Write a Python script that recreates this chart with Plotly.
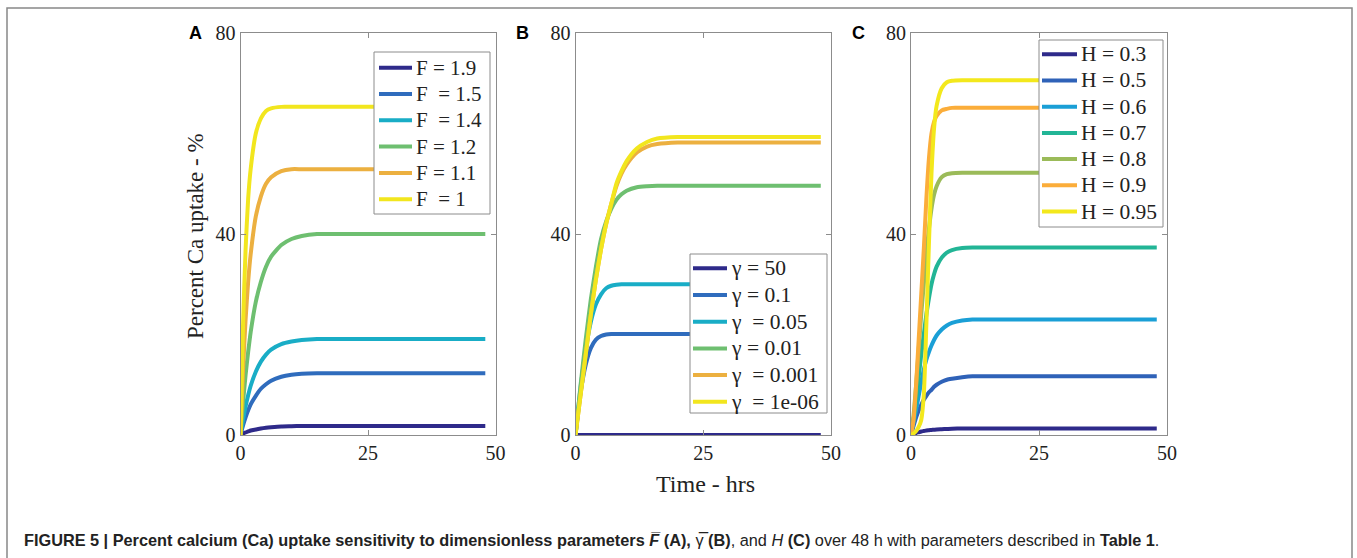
import plotly.graph_objects as go

W, H = 1357, 558

# ---------------- data ----------------
# Panel A : F-bar sensitivity
tA = [0, 0.5, 1, 1.5, 2, 3, 4, 5, 6, 8, 10, 12, 15, 20, 30, 48]
A_labels = ["F = 1.9", "F  = 1.5", "F  = 1.4", "F = 1.2", "F = 1.1", "F  = 1"]
A_F19 = [0, 0.3, 0.5, 0.7, 0.9, 1.1, 1.3, 1.45, 1.55, 1.7, 1.75, 1.8, 1.8, 1.8, 1.8, 1.8]
A_F15 = [0, 1.9, 3.5, 4.9, 6.1, 7.8, 9.2, 10.1, 10.8, 11.6, 12.0, 12.2, 12.3, 12.3, 12.3, 12.3]
A_F14 = [0, 3.1, 5.7, 7.9, 9.8, 12.6, 14.6, 16.0, 17.0, 18.1, 18.6, 18.9, 19.1, 19.1, 19.1, 19.1]
A_F12 = [0, 6.5, 12.0, 16.5, 20.5, 26.5, 30.5, 33.5, 35.5, 37.8, 39.0, 39.6, 40.0, 40.0, 40.0, 40.0]
A_F11 = [0, 13.0, 23.0, 30.5, 36.0, 43.5, 47.5, 50.0, 51.3, 52.5, 52.9, 52.9, 52.9, 52.9, 52.9, 52.9]
A_F10 = [0, 22.0, 37.0, 47.0, 53.0, 60.0, 63.0, 64.5, 65.0, 65.3, 65.3, 65.3, 65.3, 65.3, 65.3, 65.3]

# Panel B : gamma-bar sensitivity
tB = [0, 0.5, 1, 2, 3, 4, 5, 6, 7, 8, 9, 10, 12, 14, 16, 20, 30, 48]
B_labels = ["\u03b3 = 50", "\u03b3 = 0.1", "\u03b3  = 0.05", "\u03b3 = 0.01", "\u03b3  = 0.001", "\u03b3  = 1e-06"]
B_g50 = [0] * 18
B_g01 = [0, 4.5, 8.5, 14.0, 17.3, 19.0, 19.7, 20.0, 20.1, 20.1, 20.1, 20.1, 20.1, 20.1, 20.1, 20.1, 20.1, 20.1]
B_g005 = [0, 5.0, 9.5, 17.0, 22.5, 26.0, 28.0, 29.2, 29.7, 29.9, 30.0, 30.0, 30.0, 30.0, 30.0, 30.0, 30.0, 30.0]
B_g001 = [0, 5.0, 10.0, 19.0, 27.0, 33.5, 39.0, 42.5, 45.0, 46.8, 47.9, 48.6, 49.3, 49.5, 49.6, 49.6, 49.6, 49.6]
B_g0001 = [0, 4.0, 8.0, 16.0, 24.0, 31.0, 37.0, 42.0, 46.0, 49.5, 52.0, 53.8, 56.2, 57.4, 57.9, 58.2, 58.2, 58.2]
B_g1e6 = [0, 4.0, 8.0, 16.0, 24.0, 31.0, 37.0, 42.0, 46.0, 50.0, 52.5, 54.5, 57.0, 58.3, 59.0, 59.3, 59.3, 59.3]

# Panel C : H sensitivity
tC = [0, 0.5, 1, 1.5, 2, 2.5, 3, 3.5, 4, 4.5, 5, 6, 7, 8, 10, 12, 15, 20, 30, 48]
C_labels = ["H = 0.3", "H = 0.5", "H = 0.6", "H = 0.7", "H = 0.8", "H = 0.9", "H = 0.95"]
C_H03 = [0, 0.2, 0.4, 0.55, 0.7, 0.8, 0.9, 0.95, 1.0, 1.05, 1.1, 1.15, 1.2, 1.25, 1.3, 1.3, 1.3, 1.3, 1.3, 1.3]
C_H05 = [0, 1.8, 3.5, 4.9, 6.0, 7.0, 7.8, 8.5, 9.0, 9.6, 10.0, 10.6, 11.0, 11.2, 11.5, 11.7, 11.7, 11.7, 11.7, 11.7]
C_H06 = [0, 2.5, 5.0, 7.8, 10.5, 13.0, 15.0, 16.5, 17.8, 18.9, 19.8, 21.0, 21.8, 22.3, 22.8, 23.0, 23.0, 23.0, 23.0, 23.0]
C_H07 = [0, 3.0, 7.0, 11.5, 16.0, 20.0, 24.0, 27.2, 30.0, 32.0, 33.5, 35.3, 36.3, 36.8, 37.2, 37.3, 37.3, 37.3, 37.3, 37.3]
C_H08 = [0, 4.0, 10.0, 17.0, 24.0, 30.0, 36.0, 41.0, 45.0, 47.8, 49.5, 51.3, 51.9, 52.1, 52.2, 52.2, 52.2, 52.2, 52.2, 52.2]
C_H09 = [0, 3.0, 10.0, 19.0, 28.0, 37.0, 47.0, 55.0, 60.0, 62.3, 63.5, 64.6, 64.9, 65.1, 65.1, 65.1, 65.1, 65.1, 65.1, 65.1]
C_H095 = [0, 0.3, 0.8, 1.6, 3.0, 8.0, 22.0, 38.0, 52.0, 61.0, 65.5, 69.0, 70.2, 70.5, 70.6, 70.6, 70.6, 70.6, 70.6, 70.6]

x_ticks = [0, 25, 50]
y_ticks = [0, 40, 80]

# ---------------- styling ----------------
colA = ["#2e2a8a", "#2f6cbd", "#19adc6", "#6ebf70", "#ecb040", "#f2e61e"]
colB = colA
colC = ["#2e2a8a", "#2f62b8", "#1a9fd6", "#22b596", "#9bbb59", "#fbad3a", "#f3e81c"]

serif = "Liberation Serif, Times New Roman, serif"
sans = "Liberation Sans, Arial, sans-serif"
gray = "#8c8c8c"

fig = go.Figure()


def add_panel(t, series, labels, colors, xa, ya):
    for s, lab, c in zip(series, labels, colors):
        fig.add_trace(go.Scatter(x=t, y=s, name=lab, mode="lines", showlegend=False,
                                 line=dict(color=c, width=4, shape="spline", smoothing=0.6),
                                 xaxis=xa, yaxis=ya))


add_panel(tA, [A_F19, A_F15, A_F14, A_F12, A_F11, A_F10], A_labels, colA, "x", "y")
add_panel(tB, [B_g50, B_g01, B_g005, B_g001, B_g0001, B_g1e6], B_labels, colB, "x2", "y2")
add_panel(tC, [C_H03, C_H05, C_H06, C_H07, C_H08, C_H09, C_H095], C_labels, colC, "x3", "y3")


def px_x(p):
    return p / W


def px_y(p):
    return (H - p) / H


ydom = [px_y(435), px_y(33)]
xdoms = [[px_x(240.5), px_x(495.5)], [px_x(575.5), px_x(831)], [px_x(911), px_x(1167)]]

axis_common = dict(showgrid=False, zeroline=False, showline=True, linecolor=gray, linewidth=1,
                   mirror="allticks", ticks="inside", ticklen=5, tickcolor=gray,
                   tickfont=dict(family=serif, size=20, color="#222"))

layout_axes = {}
names = [("xaxis", "yaxis"), ("xaxis2", "yaxis2"), ("xaxis3", "yaxis3")]
for i, (xn, yn) in enumerate(names):
    anchor_x = "y" if i == 0 else f"y{i+1}"
    anchor_y = "x" if i == 0 else f"x{i+1}"
    layout_axes[xn] = dict(axis_common, domain=xdoms[i], range=[0, 50], tickvals=x_ticks, anchor=anchor_x)
    layout_axes[yn] = dict(axis_common, domain=ydom, range=[0, 80], tickvals=y_ticks, anchor=anchor_y)

fig.update_layout(
    width=W, height=H, autosize=False,
    margin=dict(l=0, r=0, t=0, b=0, autoexpand=False),
    paper_bgcolor="white", plot_bgcolor="white",
    showlegend=False,
    **layout_axes,
)

shapes = []
ann = []

# ---- legends (box, sample lines, labels) ----
legends = [
    # labels, colors, box (x0, x1, y0, y1), first item y, step, sample x0, x1, font size
    (A_labels, colA, (374, 490, 52, 214), 67.7, 26.3, 379, 412, 21),
    (B_labels, colB, (690, 827, 254, 413), 268.3, 26.7, 693, 727, 21.5),
    (C_labels, colC, (1039, 1163, 40, 227), 54.3, 26.2, 1042, 1077, 21.5),
]
for labels, colors, (bx0, bx1, by0, by1), y0, step, sx0, sx1, fs in legends:
    shapes.append(dict(type="rect", xref="paper", yref="paper", x0=px_x(bx0), x1=px_x(bx1),
                       y0=px_y(by1), y1=px_y(by0), line=dict(color=gray, width=1),
                       fillcolor="white", layer="above"))
    for k, (lab, c) in enumerate(zip(labels, colors)):
        yy = y0 + k * step
        shapes.append(dict(type="line", xref="paper", yref="paper", x0=px_x(sx0), x1=px_x(sx1),
                           y0=px_y(yy), y1=px_y(yy), line=dict(color=c, width=4), layer="above"))
        ann.append(dict(text=lab, x=px_x(sx1 + 2), y=px_y(yy), xref="paper", yref="paper",
                        xanchor="left", yanchor="middle", showarrow=False,
                        font=dict(family=serif, size=fs, color="#222")))

for letter, xp in [("A", 195), ("B", 522), ("C", 858)]:
    ann.append(dict(text=f"<b>{letter}</b>", x=px_x(xp), y=px_y(33), xref="paper", yref="paper",
                    xanchor="center", yanchor="middle", showarrow=False,
                    font=dict(family=sans, size=18, color="black")))
ann.append(dict(text="Percent Ca uptake - %", x=px_x(195), y=px_y(236), xref="paper", yref="paper",
                textangle=-90, xanchor="center", yanchor="middle", showarrow=False,
                font=dict(family=serif, size=23, color="#222")))
ann.append(dict(text="Time - hrs", x=px_x(705), y=px_y(484), xref="paper", yref="paper",
                xanchor="center", yanchor="middle", showarrow=False,
                font=dict(family=serif, size=24, color="#222")))
caption = ("<b>FIGURE 5 | Percent calcium (Ca) uptake sensitivity to dimensionless parameters "
           "<i>F\u0305</i> (A), </b>\u03b3\u0305<b> (B)</b>, and <i>H</i> <b>(C)</b> over 48 h with "
           "parameters described in <b>Table 1</b>.")
ann.append(dict(text=caption, x=px_x(22), y=px_y(540), xref="paper", yref="paper",
                xanchor="left", yanchor="middle", showarrow=False,
                font=dict(family=sans, size=16.3, color="#222")))

# figure frame
shapes.append(dict(type="rect", xref="paper", yref="paper", x0=px_x(7), x1=px_x(1352), y0=-0.05,
                   y1=px_y(8), line=dict(color="#888", width=1.5), layer="below"))

fig.update_layout(annotations=ann, shapes=shapes)

fig.write_html("out.html", config={"displayModeBar": False},
               post_script="document.body.style.margin='0';")
